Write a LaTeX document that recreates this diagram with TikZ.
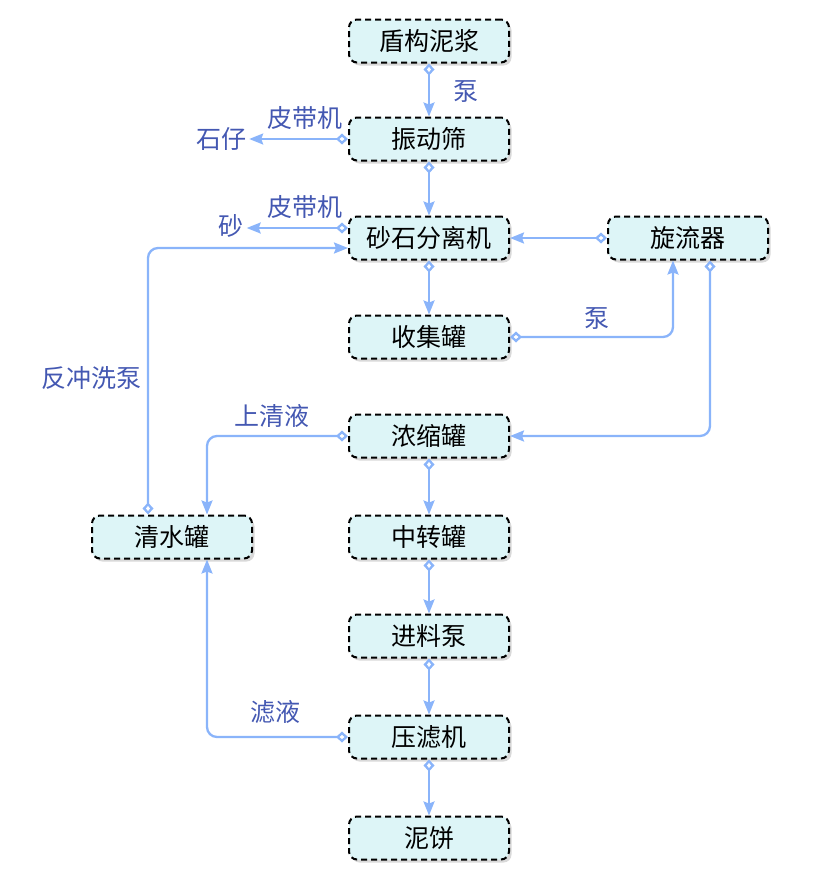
\documentclass[tikz,border=0pt]{standalone}
\usepackage{fontspec}
\setmainfont{Noto Sans CJK SC}
\usetikzlibrary{arrows.meta,positioning,shadows,calc}
\definecolor{flow}{RGB}{138,180,250}
\definecolor{ink}{RGB}{68,88,178}
\definecolor{pale}{RGB}{221,245,247}
\tikzset{
  unit/.style={draw,line width=2pt,dash pattern=on 6pt off 4pt,rounded corners=8pt,fill=pale,minimum width=160pt,minimum height=43pt,font=\fontsize{25}{28}\selectfont,drop shadow={shadow xshift=2.5pt,shadow yshift=-3pt,opacity=0.3}},
  flw/.style={draw=flow,line width=2.3pt,rounded corners=10pt,{Diamond[open,length=12pt,width=11pt]}-{Stealth[length=14pt,width=11pt,inset=2pt]}},
  tag/.style={text=ink,font=\fontsize{25}{28}\selectfont,inner sep=3pt}
}

\begin{document}
\begin{tikzpicture}[x=1pt,y=-1pt]
\useasboundingbox (0,0) rectangle (817,886);
% main column
\foreach \n/\y/\t in {slu/41/盾构泥浆,scr/139/振动筛,sep/238/砂石分离机,col/337/收集罐,thk/436/浓缩罐,mid/537/中转罐,fed/636/进料泵,prs/737/压滤机,cak/838/泥饼}
  \node[unit] (\n) at (429,\y) {\t};
\node[unit] (cyc) at (688,238) {旋流器};
\node[unit] (cln) at (172,537) {清水罐};
% outputs and labels
\node[tag] (stn) at (221,139) {石仔};
\node[tag] (snd) at (231,226) {砂};
\node[tag] (bt1) at (305,118) {皮带机};
\node[tag] (bt2) at (305,207) {皮带机};
\node[tag] (pm1) at (466,92) {泵};
\node[tag] (pm2) at (597,319) {泵};
\node[tag] (bwp) at (91,378) {反冲洗泵};
\node[tag] (sup) at (272,416) {上清液};
\node[tag] (flt) at (275,712) {滤液};
% flows
\foreach \a/\b in {slu/scr,scr/sep,sep/col,thk/mid,mid/fed,fed/prs,prs/cak}
  \draw[flw] (\a) -- (\b);
\draw[flw] (scr.west) -- (scr.west -| stn.east);
\draw[flw] ([yshift=10pt]sep.west) -- ([yshift=10pt]sep.west -| snd.east);
\draw[flw] ([xshift=-24pt]cln.north) |- ([yshift=-10pt]sep.west);
\draw[flw] (cyc.west) -- (sep.east);
\draw[flw] (col.east) -| ([xshift=-15pt]cyc.south);
\draw[flw] ([xshift=22pt]cyc.south) |- (thk.east);
\draw[flw] (thk.west) -| ([xshift=35pt]cln.north);
\draw[flw] (prs.west) -| ([xshift=35pt]cln.south);
\end{tikzpicture}
\end{document}
